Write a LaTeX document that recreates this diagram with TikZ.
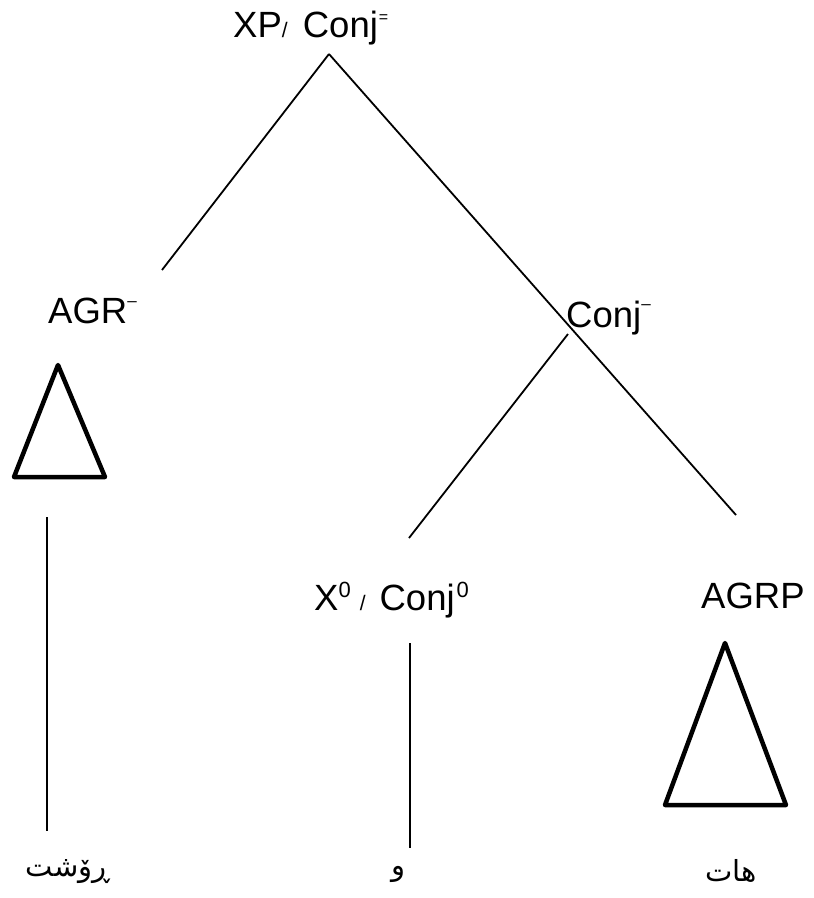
\documentclass[tikz,border=0pt]{standalone}
\usepackage{fontspec}
\setmainfont{Liberation Sans}
\newfontfamily\arabicfont[Script=Arabic]{DejaVu Sans}
\TeXXeTstate=1
\usepackage{tikz}
\usetikzlibrary{calc}
\newcommand{\upmark}[3]{\raisebox{#1}{\fontsize{#2}{#2}\selectfont #3}}
\newcommand{\slsh}{{\fontsize{21}{21}\selectfont /}}
\tikzstyle{label} = [inner sep=0pt, anchor=base west, font=\fontsize{36.5}{36.5}\selectfont]
\tikzstyle{word} = [inner sep=0pt, anchor=center, font=\arabicfont\fontsize{29}{29}\selectfont]
\tikzstyle{branch} = [line width=1.8pt]
\tikzstyle{tri} = [line width=4.5pt, line join=round]

\begin{document}
\begin{tikzpicture}[x=1pt, y=-1pt]
        \useasboundingbox (0,0) rectangle (814,898);
        \node (xp) [label] at (233,37) {XP\slsh{} \hspace{5pt}Conj\hspace{1pt}\upmark{15pt}{16}{=}};
        \node (agr) [label] at (48,323) {AGR\upmark{17pt}{17}{–}};
        \node (conj) [label] at (566,327) {Conj\upmark{18pt}{17}{–}};
        \node (xzero) [label] at (314,610) {X\upmark{13pt}{22}{0}\hspace{9pt}\slsh{}\hspace{14pt}Conj\hspace{2pt}\upmark{13pt}{22}{0}};
        \node (agrp) [label] at (701,608) {AGRP};
        \node (rust) [word] at (68,872) {\beginR ڕۆشت\endR};
        \node (waw) [word] at (398,874) {\beginR و\endR};
        \node (hat) [word] at (731,871) {\beginR هات\endR};

        % branch ends
        \coordinate (xpfoot) at (329,54);
        \coordinate (agrhead) at (162,270);
        \coordinate (agrphead) at (736,515);
        \coordinate (conjfoot) at (568,334);
        \coordinate (xhead) at (409,538);
        \coordinate (rustfoot) at (47,517);
        \coordinate (rusthead) at (47,831);
        \coordinate (wawfoot) at (410,643);
        \coordinate (wawhead) at (410,848);

        \draw [branch] (xpfoot) -- (agrhead);
        \draw [branch] (xpfoot) -- (agrphead);
        \draw [branch] (conjfoot) -- (xhead);
        \draw [branch] (rustfoot) -- (rusthead);
        \draw [branch] (wawfoot) -- (wawhead);

        % triangles
        \draw [tri] (58,365) -- (105,477) -- (14,477) -- cycle;
        \draw [tri] (725,643) -- (786,805) -- (665,805) -- cycle;
    \end{tikzpicture}
\end{document}
